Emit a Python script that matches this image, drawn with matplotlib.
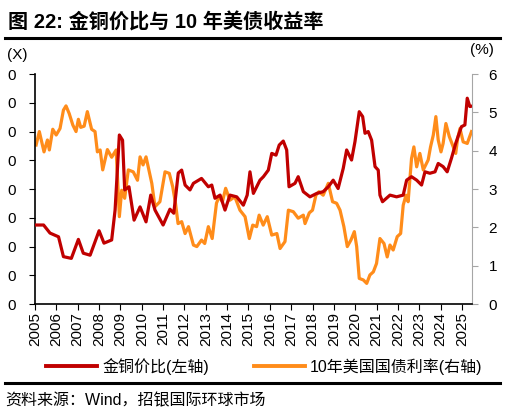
import numpy as np
import matplotlib.pyplot as plt
from matplotlib.ticker import FuncFormatter, MultipleLocator

plt.rcParams['font.family'] = ['Liberation Sans', 'Noto Sans CJK SC', 'DejaVu Sans']

# gold / copper ratio (left axis)
ratio_t = [2005.05, 2005.4, 2005.7, 2006.1, 2006.33, 2006.7, 2007.03, 2007.26, 2007.58,
           2008.0, 2008.23, 2008.59, 2008.75, 2008.95, 2009.1, 2009.2, 2009.4, 2009.64,
           2009.92, 2010.2, 2010.42, 2010.62, 2011.0, 2011.32, 2011.5, 2011.71, 2011.87,
           2012.03, 2012.26, 2012.42, 2012.8, 2013.12, 2013.28, 2013.43, 2013.67, 2013.9,
           2014.13, 2014.45, 2014.76, 2014.94, 2015.07, 2015.23, 2015.54, 2015.7, 2015.93,
           2016.09, 2016.29, 2016.44, 2016.63, 2016.79, 2016.9, 2017.18, 2017.33, 2017.57,
           2017.88, 2018.2, 2018.5, 2018.74, 2018.97, 2019.2, 2019.44, 2019.6, 2019.83,
           2019.99, 2020.19, 2020.35, 2020.46, 2020.61, 2020.77, 2020.93, 2021.08, 2021.16,
           2021.28, 2021.63, 2021.94, 2022.25, 2022.41, 2022.64, 2022.88, 2023.11, 2023.27,
           2023.5, 2023.74, 2023.89, 2024.12, 2024.31, 2024.51, 2024.71, 2024.98, 2025.14,
           2025.25, 2025.37, 2025.5]
ratio_v = [275, 275, 247, 234, 165, 159, 225, 177, 170,
           255, 212, 223, 327, 588, 570, 397, 408, 292,
           338, 286, 379, 327, 275, 330, 316, 456, 466,
           414, 397, 420, 437, 408, 414, 368, 379, 327,
           379, 373, 344, 379, 460, 385, 431, 443, 466,
           524, 518, 553, 567, 536, 408, 420, 443, 391,
           373, 385, 391, 408, 431, 402, 472, 536, 501,
           565, 669, 652, 594, 600, 570, 478, 466, 379,
           356, 379, 373, 379, 431, 443, 431, 414, 460,
           455, 460, 489, 478, 460, 507, 559, 617, 623,
           716, 687, 689]

# US 10y treasury yield (right axis, %)
yield_t = [2005.05, 2005.2, 2005.42, 2005.58, 2005.67, 2005.83, 2005.99, 2006.17, 2006.33,
           2006.45, 2006.6, 2006.77, 2006.92, 2007.03, 2007.14, 2007.3, 2007.45, 2007.65,
           2007.81, 2007.92, 2008.05, 2008.17, 2008.39, 2008.59, 2008.8, 2008.95, 2009.06,
           2009.2, 2009.37, 2009.6, 2009.8, 2009.92, 2010.06, 2010.2, 2010.47, 2010.62,
           2010.85, 2011.09, 2011.29, 2011.45, 2011.58, 2011.7, 2011.87, 2012.03, 2012.19,
           2012.42, 2012.58, 2012.8, 2012.95, 2013.12, 2013.3, 2013.5, 2013.62, 2013.78,
           2013.93, 2014.13, 2014.36, 2014.6, 2014.84, 2015.04, 2015.2, 2015.38, 2015.5,
           2015.69, 2015.88, 2016.09, 2016.33, 2016.48, 2016.71, 2016.87, 2017.1, 2017.33,
           2017.57, 2017.65, 2017.85, 2018.0, 2018.16, 2018.3, 2018.5, 2018.74, 2018.94,
           2019.13, 2019.29, 2019.47, 2019.63, 2019.8, 2019.96, 2020.07, 2020.19, 2020.38,
           2020.54, 2020.69, 2020.85, 2021.0, 2021.16, 2021.35, 2021.5, 2021.63, 2021.78,
           2021.97, 2022.13, 2022.25, 2022.38, 2022.48, 2022.64, 2022.75, 2022.88, 2023.03,
           2023.19, 2023.42, 2023.53, 2023.66, 2023.78, 2023.89, 2024.02, 2024.12, 2024.25,
           2024.41, 2024.71, 2024.8, 2024.91, 2025.06, 2025.25, 2025.45]
yield_v = [4.15, 4.5, 3.97, 4.28, 4.02, 4.56, 4.41, 4.58, 5.06,
           5.17, 4.97, 4.67, 4.5, 4.82, 4.61, 4.64, 5.02, 4.56,
           4.5, 3.97, 4.02, 3.5, 4.03, 3.83, 4.02, 2.28, 2.97,
           2.76, 3.5, 3.45, 3.23, 3.84, 3.63, 3.84, 3.15, 2.54,
           2.67, 3.45, 3.41, 3.06, 2.63, 2.1, 2.15, 1.84, 2.02,
           1.54, 1.5, 1.67, 1.58, 2.02, 1.71, 2.63, 2.8, 2.67,
           3.02, 2.71, 2.8, 2.45, 2.28, 1.71, 2.06, 2.02, 2.32,
           2.06, 2.28, 1.8, 1.84, 1.45, 1.63, 2.45, 2.41, 2.24,
           2.32, 2.1, 2.38, 2.45, 2.84, 2.93, 2.84, 3.15, 2.67,
           2.63, 2.45, 2.02, 1.5, 1.67, 1.89, 1.5, 0.67, 0.63,
           0.54, 0.76, 0.84, 1.06, 1.71, 1.58, 1.23, 1.54, 1.41,
           1.76, 1.84, 2.58, 2.84, 2.67, 3.8, 4.1, 3.58, 3.93,
           3.5, 3.76, 4.1, 4.41, 4.89, 4.28, 3.97, 4.19, 4.71,
           4.37, 3.93, 4.32, 4.58, 4.23, 4.19, 4.5]

years = list(range(2005, 2026))

red = '#C00000'
orange = '#FF8C1A'
grey = '#A6A6A6'

fig = plt.figure(figsize=(5.08, 4.16), dpi=100)
ax = fig.add_axes([0.069, 0.269, 0.86, 0.553])
ax2 = ax.twinx()

ax.plot(ratio_t, ratio_v, color=red, lw=2.3, zorder=3)
ax2.plot(yield_t, yield_v, color=orange, lw=2.3)
ax.set_zorder(ax2.get_zorder() + 1)
ax.patch.set_visible(False)

ax.set_xlim(2005, 2025.47)
ax.set_ylim(0, 800)
ax2.set_ylim(0, 6)
ax.set_xticks(years)
ax.set_xticklabels([str(y) for y in years], rotation=90, fontsize=11)
ax.yaxis.set_major_locator(MultipleLocator(100))
# left labels appear truncated to their last digit in the source
ax.yaxis.set_major_formatter(FuncFormatter(lambda v, p: str(int(v))[-1]))
ax.tick_params(axis='y', labelsize=11, length=4, direction='out', pad=10)
ax.tick_params(axis='x', length=4, direction='out', pad=2)
ax2.tick_params(axis='y', labelsize=11, length=4, color=grey, pad=8)

for s in ['top', 'right']:
    ax.spines[s].set_visible(False)
ax2.spines['top'].set_visible(False)
ax2.spines['left'].set_visible(False)
ax2.spines['bottom'].set_visible(False)
ax2.spines['right'].set_color(grey)
ax.spines['left'].set_linewidth(1.2)
ax.spines['bottom'].set_linewidth(1.2)

fig.text(0.016, 0.947, '图 22: 金铜价比与 10 年美债收益率', fontsize=14.5,
         fontweight='bold', va='center')
fig.add_artist(plt.Line2D([0.01, 0.985], [0.908, 0.908], color='black', lw=2.2))
fig.text(0.014, 0.868, '(X)', fontsize=11, va='center')
fig.text(0.925, 0.88, '(%)', fontsize=11, va='center')

h1, = ax.plot([], [], color=red, lw=2.8, label='金铜价比(左轴)')
h2, = ax.plot([], [], color=orange, lw=2.8, label='10年美国国债利率(右轴)')
fig.legend(handles=[h1, h2], loc='center', bbox_to_anchor=(0.52, 0.12), ncol=2,
           frameon=False, fontsize=11.5, handlelength=3.2, columnspacing=2.8,
           handletextpad=0.3)

fig.add_artist(plt.Line2D([0.01, 0.985], [0.079, 0.079], color='black', lw=2.2))
fig.text(0.01, 0.038, '资料来源：Wind，招银国际环球市场', fontsize=11.5, va='center')

fig.savefig('out.png', dpi=100)
